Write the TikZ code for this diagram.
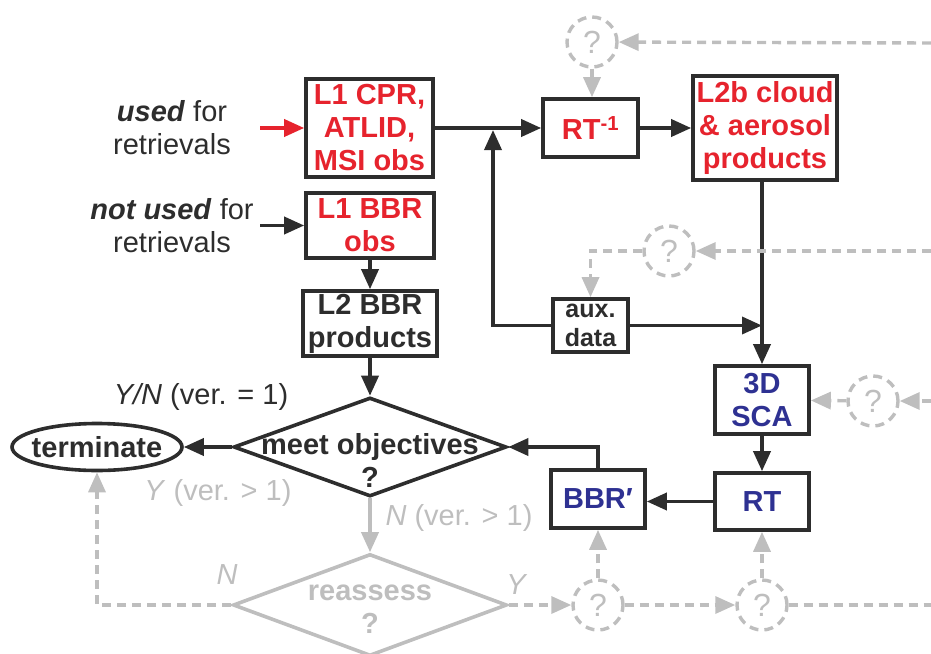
\documentclass[tikz,border=0pt]{standalone}
\usepackage{fontspec}
\setmainfont{Liberation Sans}
\usetikzlibrary{arrows.meta,shapes.geometric}

\definecolor{obsred}{RGB}{230,35,45}
\definecolor{simblue}{RGB}{46,49,146}
\definecolor{ink}{RGB}{45,45,45}
\definecolor{faded}{RGB}{190,190,190}

\newcommand{\bigtext}{\fontsize{29}{33}\selectfont}
\newcommand{\midtext}{\fontsize{25}{29}\selectfont}

\begin{document}
\begin{tikzpicture}[
		x=1pt, y=-1pt,
		box/.style={
			draw=ink,
			line width=3.6pt,
			font=\bfseries\bigtext,
			text=ink,
			align=center,
			inner sep=0pt,
		},
		decision/.style={
			diamond,
			draw=ink,
			line width=3.6pt,
			inner sep=0pt,
		},
		link/.style={
			-{Triangle[length=20pt,width=17pt]},
			line width=3.6pt,
			ink,
		},
		faint/.style={
			-{Triangle[length=20pt,width=17pt]},
			line width=3.4pt,
			faded,
			dash pattern=on 9pt off 6pt,
		},
		query/.style={
			circle,
			draw=faded,
			line width=3.4pt,
			dash pattern=on 9pt off 6pt,
			minimum size=50pt,
			inner sep=0pt,
			text=faded,
			font=\fontsize{32}{36}\selectfont,
		},
		note/.style={
			align=center,
			text=ink,
			font=\bigtext,
			inner sep=0pt,
		},
	]
	\useasboundingbox (0,0) rectangle (931,653);

	% observations
	\node [box, text=obsred, minimum width=127pt, minimum height=98pt] (cpr) at (369.5,128) {L1 CPR,\\ATLID,\\MSI obs};
	\node [box, text=obsred, minimum width=128pt, minimum height=65pt] (bbrobs) at (370,225.5) {L1 BBR\\obs};
	\node [box, minimum width=134pt, minimum height=65pt] (bbrprod) at (370,323.5) {L2 BBR\\products};
	\node [box, text=obsred, minimum width=95pt, minimum height=58pt] (rtinv) at (590.5,128) {RT\textsuperscript{-1}};
	\node [box, text=obsred, minimum width=144pt, minimum height=104pt] (cloud) at (765,128) {L2b cloud\\\& aerosol\\products};
	\node [box, font=\bfseries\midtext, minimum width=75pt, minimum height=53pt] (aux) at (590.5,325.5) {aux.\\data};

	% simulation
	\node [box, text=simblue, minimum width=94pt, minimum height=68pt] (sca) at (762,400) {3D\\SCA};
	\node [box, text=simblue, minimum width=94pt, minimum height=57pt] (rt) at (762,501.5) {RT};
	\node [box, text=simblue, minimum width=94pt, minimum height=58pt] (bbrsim) at (598,499) {BBR′};

	% decisions
	\node [decision, minimum width=273pt, minimum height=99pt] (meet) at (370,447) {};
	\node [note, font=\bfseries\bigtext] (meettext) at (370,460) {meet objectives\\?};
	\node [decision, draw=faded, minimum width=274pt, minimum height=102pt] (reassess) at (370,605) {};
	\node [note, text=faded, font=\bfseries\bigtext] (reassesstext) at (370,609) {reassess\\?};
	\node [ellipse, draw=ink, line width=3.6pt, font=\bfseries\bigtext, text=ink,
	inner xsep=-14pt, inner ysep=0pt, minimum width=170pt, minimum height=47pt] (term) at (97,447) {terminate};

	% open questions
	\node [query] (q1) at (592,42) {?};
	\node [query] (q2) at (669,251) {?};
	\node [query] (q3) at (873,401) {?};
	\node [query] (q4) at (598,605) {?};
	\node [query] (q5) at (762,605) {?};

	% labels
	\node [note] (used) at (172,128) {\textbf{\textit{used}} for\\retrievals};
	\node [note] (notused) at (172,226) {\textbf{\textit{not used}} for\\retrievals};
	\node [note] (ynone) at (201,397) {\textit{Y/N} (ver. = 1)};
	\node [note, text=faded] (ymore) at (218,493) {\textit{Y} (ver. > 1)};
	\node [note, text=faded] (nmore) at (459,518) {\textit{N} (ver. > 1)};
	\node [note, text=faded] (nlabel) at (227,575) {\textit{N}};
	\node [note, text=faded] (ylabel) at (517,585) {\textit{Y}};

	\coordinate (usedin) at (260,128);
	\coordinate (notusedin) at (260,225.5);
	\coordinate (join) at (493,130);
	\coordinate (edge1) at (931,43);
	\coordinate (edge2) at (931,251);
	\coordinate (edge3) at (931,401);
	\coordinate (edge5) at (931,605);

	\draw [link, obsred] (usedin) -- (cpr);
	\draw [link] (notusedin) -- (bbrobs);
	\draw [link] (cpr) -- (rtinv);
	\draw [link] (rtinv) -- (cloud);
	\draw [link] (bbrobs) -- (bbrprod);
	\draw [link] (bbrprod) -- (meet);
	\draw [link] (meet) -- (term);
	\draw [link] (sca |- cloud.south) -- (sca);
	\draw [link] (aux) -- (aux -| sca);
	\draw [link] (aux.west) -| (join);
	\draw [link] (sca) -- (rt);
	\draw [link] (rt.west) -- (rt.west -| bbrsim.east);
	\draw [link] (bbrsim.north) |- (meet.east);

	\draw [link, faded] (meet.south) -- (reassess.north);
	\draw [faint] (edge1) -- (q1);
	\draw [faint] (q1) -- (q1 |- rtinv.north);
	\draw [faint] (edge2) -- (q2);
	\draw [faint] (q2.west) -| (aux.north);
	\draw [faint] (edge3) -- (q3);
	\draw [faint] (q3) -- (sca);
	\draw [faint] (q4) -- (bbrsim);
	\draw [faint] (q5) -- (rt);
	\draw [faint] (reassess.east) -- (q4);
	\draw [faint] (q4) -- (q5);
	\draw [faint, -] (q5) -- (edge5);
	\draw [faint] (reassess.west) -| (term.south);

\end{tikzpicture}
\end{document}
